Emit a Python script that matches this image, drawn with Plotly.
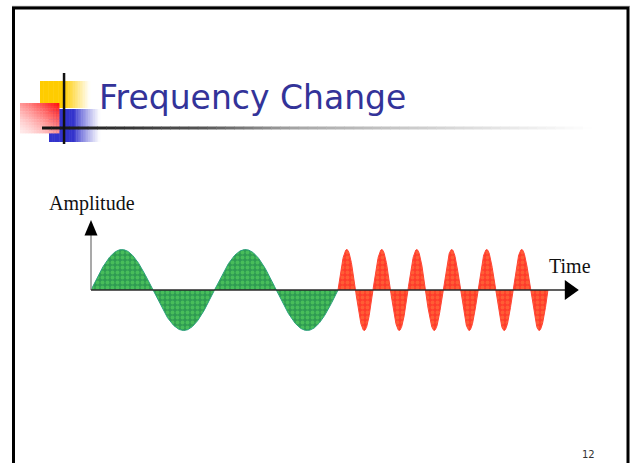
import numpy as np
import plotly.graph_objects as go

# ---------------- data ----------------
segment_names = ["Low frequency", "High frequency"]
segment_start = [0.0, 2.0]          # time units
segment_end = [2.0, 3.7]
segment_cycles = [2, 6]
segment_amplitude = [1.0, 1.0]

title_text = "Frequency Change"
y_label = "Amplitude"
x_label = "Time"
page_number = "12"
time_axis_end = 3.95
amp_axis_top = 1.73

# ---------------- styles ----------------
seg_fill = ["#2f9a52", "#ff3b2b"]
seg_dots = ["#5fe062", "#ff7d3e"]
seg_edge = ["#2ba07c", "#ff4634"]

W, H = 632, 463
T0_PX, PX_PER_T = 91.0, 123.5
Y0_PX, PX_PER_A = 290.0, 40.5

x_range = [-T0_PX / PX_PER_T, (W - T0_PX) / PX_PER_T]
y_range = [-(H - Y0_PX) / PX_PER_A, Y0_PX / PX_PER_A]


def px(x):
    return x / W


def py(y):
    return 1 - y / H


def tx(t):
    return T0_PX + t * PX_PER_T


def ay(a):
    return Y0_PX - a * PX_PER_A


fig = go.Figure()

for i, name in enumerate(segment_names):
    t = np.linspace(segment_start[i], segment_end[i], 600)
    phase = (t - segment_start[i]) / (segment_end[i] - segment_start[i])
    y = segment_amplitude[i] * np.sin(2 * np.pi * segment_cycles[i] * phase)
    fig.add_trace(go.Scatter(
        x=t, y=y, mode="lines", name=name, fill="tozeroy",
        line=dict(color=seg_edge[i], width=1),
        fillcolor=seg_fill[i],
        fillpattern=dict(shape=".", fgcolor=seg_dots[i], bgcolor=seg_fill[i],
                         size=5, solidity=0.45),
        hoverinfo="skip", showlegend=False,
    ))

shapes = []


def rect(x0, y0, x1, y1, color, line=None):
    d = dict(type="rect", xref="paper", yref="paper",
             x0=px(x0), x1=px(x1), y0=py(y1), y1=py(y0),
             fillcolor=color, line=dict(width=0), layer="above")
    if line:
        d["line"] = line
        d["fillcolor"] = "rgba(0,0,0,0)"
    shapes.append(d)


def mix(c1, c2, t):
    t = max(0.0, min(1.0, t))
    return "rgb(%d,%d,%d)" % tuple(round(a + (b - a) * t) for a, b in zip(c1, c2))


WHITE = (255, 255, 255)

# slide border
shapes.append(dict(type="line", xref="paper", yref="paper", x0=px(12), x1=px(630),
                   y0=py(6.3), y1=py(6.3), line=dict(color="#a0a0a0", width=1)))
rect(13.5, 8, 628, 520, None, line=dict(color="#000000", width=3))

# yellow square (solid then fading right)
YEL = (255, 204, 0)
n = 30
for k in range(n):
    x0 = 40 + k * (90 - 40) / n
    x1 = 40 + (k + 1) * (90 - 40) / n + 0.5
    xc = (x0 + x1) / 2
    t = 0 if xc < 64 else (xc - 64) / (90 - 64)
    rect(x0, 81, x1, 108, mix(YEL, WHITE, t))

# blue square (solid then fading right)
BLU = (51, 51, 204)
for k in range(n):
    x0 = 49 + k * (100 - 49) / n
    x1 = 49 + (k + 1) * (100 - 49) / n + 0.5
    xc = (x0 + x1) / 2
    t = 0 if xc < 74 else (xc - 74) / (100 - 74)
    rect(x0, 109, x1, 142, mix(BLU, WHITE, t ** 0.8))

# red square (diagonal gradient, red at top-right)
RED = (255, 10, 10)
nx, ny = 14, 11
for i in range(nx):
    for j in range(ny):
        x0 = 20 + i * (59 - 20) / nx
        x1 = 20 + (i + 1) * (59 - 20) / nx + 0.4
        y0 = 103 + j * (133 - 103) / ny
        y1 = 103 + (j + 1) * (133 - 103) / ny + 0.4
        u = (i + 0.5) / nx
        v = 1 - (j + 0.5) / ny
        s = 0.08 + 0.92 * ((u + v) / 2) ** 1.4
        rect(x0, y0, x1, y1, mix(WHITE, RED, s))

# title underline gradient
stops = [(42, 20), (64, 26), (200, 85), (300, 168), (450, 215), (592, 255)]
m = 60
for k in range(m):
    x0 = 42 + k * (592 - 42) / m
    x1 = 42 + (k + 1) * (592 - 42) / m + 0.5
    xc = (x0 + x1) / 2
    for (a, ca), (b, cb) in zip(stops[:-1], stops[1:]):
        if a <= xc <= b:
            g = ca + (cb - ca) * (xc - a) / (b - a)
            break
    g = round(g)
    rect(x0, 126.5, x1, 129.5, "rgb(%d,%d,%d)" % (g, g, g))

# black vertical bar of logo
rect(62.8, 73, 65.3, 144, "#111111")

# axes of the wave diagram
x_axis_left = tx(0)
x_arrow_tip = tx(time_axis_end)
y_arrow_tip = ay(amp_axis_top)
shapes.append(dict(type="line", xref="paper", yref="paper",
                   x0=px(x_axis_left), x1=px(x_axis_left),
                   y0=py(Y0_PX), y1=py(y_arrow_tip + 14),
                   line=dict(color="#8c8c8c", width=1.5), layer="above"))
shapes.append(dict(type="path", xref="paper", yref="paper",
                   path="M %f %f L %f %f L %f %f Z" % (
                       px(x_axis_left), py(y_arrow_tip),
                       px(x_axis_left - 6.5), py(y_arrow_tip + 15.5),
                       px(x_axis_left + 6.5), py(y_arrow_tip + 15.5)),
                   fillcolor="#000000", line=dict(width=0), layer="above"))
shapes.append(dict(type="line", xref="paper", yref="paper",
                   x0=px(x_axis_left), x1=px(x_arrow_tip - 13),
                   y0=py(Y0_PX), y1=py(Y0_PX),
                   line=dict(color="#2a2a2a", width=1.6), layer="above"))
shapes.append(dict(type="path", xref="paper", yref="paper",
                   path="M %f %f L %f %f L %f %f Z" % (
                       px(x_arrow_tip), py(Y0_PX),
                       px(x_arrow_tip - 14), py(Y0_PX - 10),
                       px(x_arrow_tip - 14), py(Y0_PX + 10)),
                   fillcolor="#000000", line=dict(width=0), layer="above"))

annotations = [
    dict(text=title_text, x=px(97), y=py(97.5), xref="paper", yref="paper",
         xanchor="left", yanchor="middle", showarrow=False,
         font=dict(family="DejaVu Sans", size=33, color="#333399")),
    dict(text=y_label, x=px(47), y=py(203.5), xref="paper", yref="paper",
         xanchor="left", yanchor="middle", showarrow=False,
         font=dict(family="Liberation Serif", size=20, color="#111111")),
    dict(text=x_label, x=px(547), y=py(265.5), xref="paper", yref="paper",
         xanchor="left", yanchor="middle", showarrow=False,
         font=dict(family="Liberation Serif", size=20, color="#111111")),
    dict(text=page_number, x=px(588), y=py(454.5), xref="paper", yref="paper",
         xanchor="center", yanchor="middle", showarrow=False,
         font=dict(family="DejaVu Sans", size=10, color="#333333")),
]

fig.update_layout(
    width=W, height=H,
    margin=dict(l=0, r=0, t=0, b=0),
    paper_bgcolor="#ffffff", plot_bgcolor="#ffffff",
    xaxis=dict(range=x_range, visible=False, fixedrange=True),
    yaxis=dict(range=y_range, visible=False, fixedrange=True),
    shapes=shapes, annotations=annotations,
    showlegend=False,
)

fig.write_html("out.html", config=dict(displayModeBar=False),
               post_script="document.body.style.margin='0px';"
                           "document.body.style.overflow='hidden';")
